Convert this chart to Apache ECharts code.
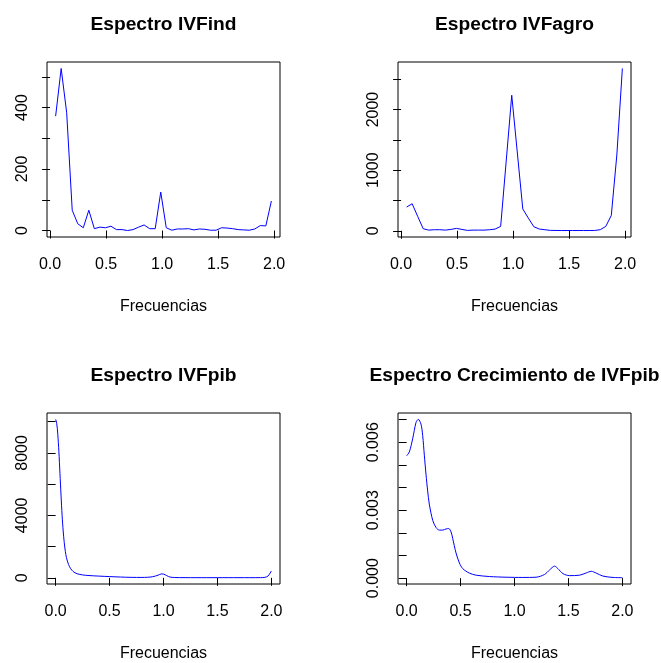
<!DOCTYPE html>
<html><head><meta charset="utf-8">
<script src="https://cdn.jsdelivr.net/npm/echarts@6/dist/echarts.min.js"></script>
<style>html,body{margin:0;padding:0;background:#fff}#c{width:661px;height:663px}</style>
</head><body><div id="c"></div>
<script>
const FONT = "'Liberation Sans', Arial, Helvetica, sans-serif";

// Frecuencias de los periodogramas (IVFind, IVFagro)
const freqPer = [0.0494,0.0988,0.1481,0.1975,0.2469,0.2963,0.3457,0.3951,0.4444,0.4938,
  0.5432,0.5926,0.6420,0.6914,0.7407,0.7901,0.8395,0.8889,0.9383,0.9877,
  1.0370,1.0864,1.1358,1.1852,1.2346,1.2840,1.3333,1.3827,1.4321,1.4815,
  1.5309,1.5802,1.6296,1.6790,1.7284,1.7778,1.8272,1.8765,1.9259,1.9753];
const ivfInd = [372,527,383,66,22,9,66,6,11,9,14,3,3,0,3,11,18,6,6,125,
  9,1,5,5,6,2,5,4,1,1,9,8,6,3,2,1,5,16,15,96];
const ivfAgro = [391,446,237,33,11,17,17,11,22,39,22,6,11,11,11,17,28,72,1150,2236,
  1300,360,209,66,28,17,6,5,4,4,4,4,4,4,5,17,72,253,1250,2678];

// Espectro suavizado IVFpib
const freqPib = [0,0.01,0.02,0.03,0.04,0.05,0.06,0.07,0.08,0.09,0.1,0.12,0.14,0.16,0.18,0.2,0.25,0.3,0.4,0.5,
  0.6,0.7,0.8,0.85,0.9,0.95,0.98,1.0,1.03,1.06,1.1,1.2,1.3,1.4,1.5,1.6,1.7,1.8,1.9,1.94,1.97,2.0];
const ivfPib = [10150,9900,9200,8100,6700,5300,4000,3000,2250,1700,1300,850,580,420,320,260,185,150,110,80,
  50,30,25,35,70,170,250,240,140,50,20,12,10,10,10,10,10,10,12,30,120,440];

// Espectro crecimiento IVFpib
const freqCrec = [0,0.025,0.056,0.087,0.108,0.133,0.149,0.164,0.18,0.195,0.21,0.242,0.273,0.303,0.334,0.365,0.39,0.412,0.427,0.458,
  0.489,0.52,0.582,0.644,0.768,0.922,1.077,1.2,1.278,1.325,1.372,1.402,1.449,1.51,1.604,1.665,1.712,1.758,1.82,1.913,2.0];
const crecPib = [0.00540,0.00557,0.00615,0.00687,0.00701,0.00680,0.00629,0.00543,0.00456,0.00385,0.00327,0.00255,0.00223,0.00212,0.00212,0.00217,0.00219,0.00204,0.00175,0.00111,
  0.00067,0.00042,0.00022,0.00013,0.00007,0.00004,0.00003,0.00004,0.00016,0.00036,0.00053,0.00042,0.00020,0.00011,0.00013,0.00023,0.00030,0.00022,0.00009,0.00003,0.00002];

const titles = ["Espectro IVFind","Espectro IVFagro","Espectro IVFpib","Espectro Crecimiento de IVFpib"];
const xName = "Frecuencias";
const xTicks = [0,0.5,1,1.5,2];
const yTicks = [[0,100,200,300,400,500],[0,500,1000,1500,2000,2500],[0,2000,4000,6000,8000,10000],[0,0.001,0.002,0.003,0.004,0.005,0.006,0.007]];
const yLabels = [[0,200,400],[0,1000,2000],[0,4000,8000],[0,0.003,0.006]];
const yDecimals = [0,0,0,3];

const xs = [freqPer, freqPer, freqPib, freqCrec];
const ys = [ivfInd, ivfAgro, ivfPib, crecPib];
const smooths = [false,false,0.3,0.3];

const grids = [
  {left:47, top:62, width:233, height:175},
  {left:398, top:62, width:233, height:175},
  {left:47, top:413, width:233, height:175},
  {left:398, top:413, width:233, height:175}
];
function ext(a){const mn=Math.min(...a),mx=Math.max(...a),d=(mx-mn)*0.04;return [mn-d,mx+d];}

const option = {animation:false, backgroundColor:'#fff', grid:[], xAxis:[], yAxis:[], series:[], graphic:[]};
for (let i=0;i<4;i++){
  const g = grids[i];
  option.grid.push(Object.assign({show:true,borderColor:'#000',borderWidth:1,backgroundColor:'transparent',containLabel:false}, g));
  const xe = ext(xs[i]), ye = ext(ys[i]);
  option.xAxis.push({type:'value',gridIndex:i,min:xe[0],max:xe[1],
    axisLine:{show:false},splitLine:{show:false},
    axisTick:{show:true,customValues:xTicks,length:8,lineStyle:{color:'#000',width:1}},
    axisLabel:{customValues:xTicks,formatter:v=>Number(v).toFixed(1),margin:20,color:'#000',fontSize:16,fontFamily:FONT},
    name:xName,nameLocation:'middle',nameGap:62,nameTextStyle:{color:'#000',fontSize:16,fontFamily:FONT}});
  option.yAxis.push({type:'value',gridIndex:i,min:ye[0],max:ye[1],
    axisLine:{show:false},splitLine:{show:false},
    axisTick:{show:true,customValues:yTicks[i],length:8,lineStyle:{color:'#000',width:1}},
    axisLabel:{customValues:yLabels[i],rotate:90,formatter:v=>Number(v).toFixed(yDecimals[i]),margin:16,color:'#000',fontSize:16,fontFamily:FONT}});
  option.series.push({type:'line',xAxisIndex:i,yAxisIndex:i,data:xs[i].map((x,j)=>[x,ys[i][j]]),
    symbol:'none',showSymbol:false,smooth:smooths[i],lineStyle:{color:'#0000ff',width:1},silent:true});
  option.graphic.push({type:'text',x:g.left+g.width/2,y:g.top-37,
    style:{text:titles[i],align:'center',verticalAlign:'middle',fontSize:19.2,fontWeight:'bold',fontFamily:FONT,fill:'#000'}});
}
const chart = echarts.init(document.getElementById('c'),null,{renderer:'canvas'});
chart.setOption(option);
</script></body></html>
